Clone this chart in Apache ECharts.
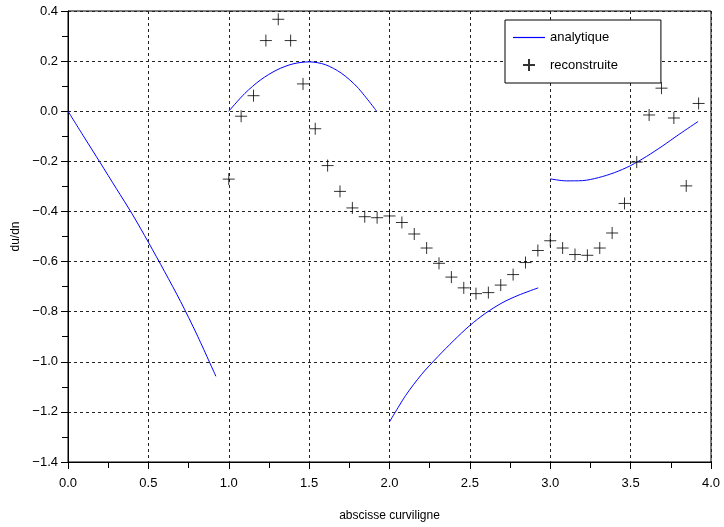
<!DOCTYPE html>
<html>
<head>
<meta charset="utf-8">
<script src="https://cdn.jsdelivr.net/npm/echarts@6/dist/echarts.min.js"></script>
<style>html,body{margin:0;padding:0;background:#fff;}#c{width:724px;height:527px;}</style>
</head>
<body>
<div id="c"></div>
<script>
// analytic curve, four pieces
const seg1X = [0.0, 0.1, 0.2, 0.3, 0.4, 0.5, 0.6, 0.7, 0.8, 0.92];
const seg1Y = [0.0, -0.103, -0.205, -0.308, -0.411, -0.523, -0.639, -0.759, -0.889, -1.058];
const seg2X = [1.0, 1.1, 1.2, 1.3, 1.4, 1.5, 1.6, 1.7, 1.8, 1.92];
const seg2Y = [0.0, 0.071, 0.126, 0.165, 0.189, 0.197, 0.186, 0.152, 0.096, 0.0];
const seg3X = [2.0, 2.1, 2.2, 2.3, 2.4, 2.5, 2.6, 2.7, 2.8, 2.925];
const seg3Y = [-1.24, -1.135, -1.05, -0.98, -0.915, -0.855, -0.805, -0.765, -0.735, -0.705];
const seg4X = [3.0, 3.1, 3.2, 3.3, 3.4, 3.5, 3.6, 3.7, 3.8, 3.92];
const seg4Y = [-0.27, -0.278, -0.277, -0.265, -0.245, -0.217, -0.18, -0.138, -0.093, -0.041];
// reconstructed points
const recX = [1.000, 1.077, 1.154, 1.231, 1.308, 1.385, 1.462, 1.538, 1.615, 1.692, 1.769, 1.846, 1.923,
              2.000, 2.077, 2.154, 2.231, 2.308, 2.385, 2.462, 2.538, 2.615, 2.692, 2.769, 2.846, 2.923,
              3.000, 3.077, 3.154, 3.231, 3.308, 3.385, 3.462, 3.538, 3.615, 3.692, 3.769, 3.846, 3.923];
const recY = [-0.271, -0.020, 0.062, 0.282, 0.367, 0.282, 0.109, -0.070, -0.217, -0.320, -0.386, -0.421, -0.425,
              -0.418, -0.444, -0.490, -0.546, -0.607, -0.662, -0.705, -0.728, -0.724, -0.694, -0.652, -0.604, -0.556,
              -0.517, -0.546, -0.572, -0.575, -0.546, -0.486, -0.368, -0.203, -0.015, 0.092, -0.027, -0.298, 0.031];
const xTicks = [0.0, 0.5, 1.0, 1.5, 2.0, 2.5, 3.0, 3.5, 4.0];
const yTicks = [-1.4, -1.2, -1.0, -0.8, -0.6, -0.4, -0.2, 0.0, 0.2, 0.4];

const pairs = (xs, ys) => xs.map((x, i) => [x, ys[i]]);
const fmt = v => { const s = Number(v).toFixed(1); return s.replace('-', '\u2212'); };
const FONT = 'Liberation Sans';

function lineSeries(xs, ys) {
  return {
    type: 'line', name: 'analytique', data: pairs(xs, ys), symbol: 'none', smooth: 0.3,
    lineStyle: { color: '#0000ff', width: 1 }, itemStyle: { color: '#0000ff' }, z: 3, silent: true
  };
}

const chart = echarts.init(document.getElementById('c'), null, { renderer: 'canvas' });
chart.setOption({
  animation: false,
  backgroundColor: '#fff',
  grid: { left: 68, right: 13, top: 11, bottom: 65, show: true, borderColor: '#000', borderWidth: 1, backgroundColor: 'transparent' },
  legend: {
    orient: 'vertical', left: 505, top: 20,
    padding: [11, 43, 11, 8], itemGap: 14, itemWidth: 32, itemHeight: 12,
    borderColor: '#000', borderWidth: 1, backgroundColor: '#fff',
    symbolKeepAspect: true,
    textStyle: { fontSize: 13, color: '#000', fontFamily: FONT },
    data: [
      { name: 'analytique', icon: 'path://M0,0L64,0L64,2.4L0,2.4Z',
        itemStyle: { color: '#0000ff', borderColor: '#0000ff', borderWidth: 0, opacity: 1 } },
      { name: 'reconstruite' }
    ]
  },
  xAxis: {
    type: 'value', min: xTicks[0], max: xTicks[xTicks.length - 1], interval: 0.5,
    name: 'abscisse curviligne', nameLocation: 'middle', nameGap: 48,
    nameTextStyle: { fontSize: 12, color: '#000', fontFamily: FONT },
    axisLine: { show: true, onZero: false, lineStyle: { color: '#000', width: 1 } },
    axisTick: { show: true, inside: false, length: 7, lineStyle: { color: '#000' } },
    minorTick: { show: true, splitNumber: 2, length: 6, lineStyle: { color: '#000' } },
    axisLabel: { formatter: fmt, fontSize: 13, color: '#000', fontFamily: FONT, margin: 15 },
    splitLine: { show: true, lineStyle: { color: '#222', type: [3, 3], width: 1 } }
  },
  yAxis: {
    type: 'value', min: yTicks[0], max: yTicks[yTicks.length - 1], interval: 0.2,
    name: 'du/dn', nameLocation: 'middle', nameGap: 42, nameRotate: 90,
    nameTextStyle: { fontSize: 12, color: '#000', fontFamily: FONT },
    axisLine: { show: true, onZero: false, lineStyle: { color: '#000', width: 1 } },
    axisTick: { show: true, inside: false, length: 7, lineStyle: { color: '#000' } },
    minorTick: { show: true, splitNumber: 2, length: 6, lineStyle: { color: '#000' } },
    axisLabel: { formatter: fmt, fontSize: 13, color: '#000', fontFamily: FONT, margin: 10 },
    splitLine: { show: true, lineStyle: { color: '#222', type: [3, 3], width: 1 } }
  },
  series: [
    lineSeries(seg1X, seg1Y),
    lineSeries(seg2X, seg2Y),
    lineSeries(seg3X, seg3Y),
    lineSeries(seg4X, seg4Y),
    {
      type: 'scatter', name: 'reconstruite', data: pairs(recX, recY),
      symbol: 'path://M0,5L10,5M5,0L5,10', symbolSize: 12, symbolKeepAspect: true,
      itemStyle: { color: 'rgba(0,0,0,0)', borderColor: '#000', borderWidth: 1 },
      z: 4, silent: true
    }
  ]
});
</script>
</body>
</html>
